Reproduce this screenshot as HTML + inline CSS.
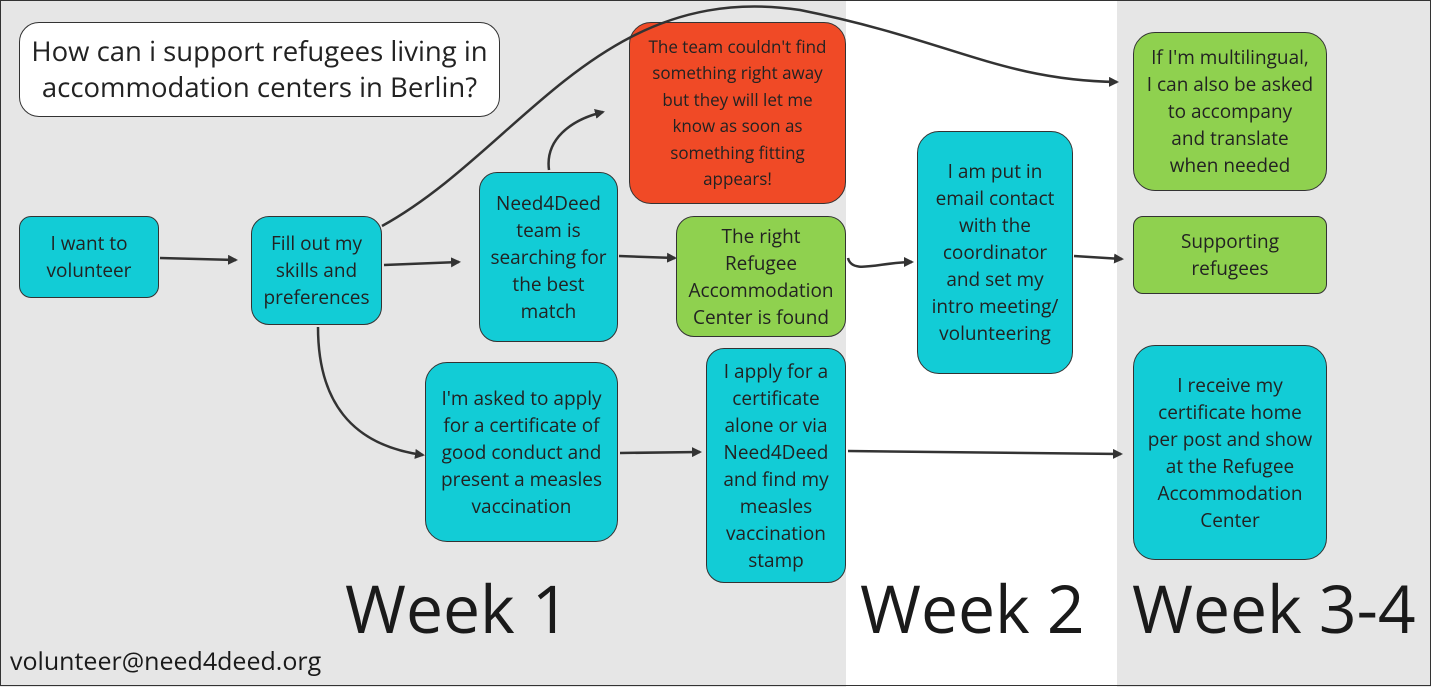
<!DOCTYPE html>
<html><head><meta charset="utf-8"><style>
body{margin:0;width:1431px;height:687px;overflow:hidden;font-family:"Open Sans","Liberation Sans",sans-serif;}
.bg{position:absolute;top:0;height:687px}
.n{position:absolute;box-sizing:border-box;border:1.5px solid #333;border-radius:18px;display:flex;align-items:center;justify-content:center;text-align:center;color:#222;font-size:19px;line-height:27px}
.c{background:#12ccd6}.g{background:#8fd14f}.r{background:#f04a26}
.w{position:absolute;font-size:66px;color:#1a1a1a;top:568px;line-height:80px}
</style></head><body>
<div class="bg" style="left:0;width:846px;background:#e6e6e6"></div>
<div class="bg" style="left:846px;width:271px;background:#fff"></div>
<div class="bg" style="left:1117px;width:314px;background:#e6e6e6"></div>
<div style="position:absolute;left:0;top:0;width:1429px;height:684px;border:1px solid #333"></div>

<div class="n" style="left:19px;top:22px;width:481px;height:95px;background:#fff;font-size:27.5px;line-height:36px;border-radius:20px">How can i support refugees living in<br>accommodation centers in Berlin?</div>
<div class="n c" style="left:19px;top:216px;width:140px;height:82px;border-radius:12px">I want to<br>volunteer</div>
<div class="n c" style="left:251px;top:216px;width:131px;height:109px">Fill out my<br>skills and<br>preferences</div>
<div class="n c" style="left:479px;top:172px;width:139px;height:170px">Need4Deed<br>team is<br>searching for<br>the best<br>match</div>
<div class="n r" style="left:629px;top:22px;width:217px;height:182px;font-size:17px;line-height:26.5px;border-radius:22px">The team couldn't find<br>something right away<br>but they will let me<br>know as soon as<br>something fitting<br>appears!</div>
<div class="n g" style="left:676px;top:216px;width:170px;height:121px">The right<br>Refugee<br>Accommodation<br>Center is found</div>
<div class="n c" style="left:917px;top:131px;width:156px;height:243px;border-radius:22px">I am put in<br>email contact<br>with the<br>coordinator<br>and set my<br>intro meeting/<br>volunteering</div>
<div class="n g" style="left:1133px;top:32px;width:194px;height:159px;border-radius:22px">If I'm multilingual,<br>I can also be asked<br>to accompany<br>and translate<br>when needed</div>
<div class="n g" style="left:1133px;top:216px;width:194px;height:78px;border-radius:10px">Supporting<br>refugees</div>
<div class="n c" style="left:425px;top:362px;width:193px;height:180px;border-radius:22px">I'm asked to apply<br>for a certificate of<br>good conduct and<br>present a measles<br>vaccination</div>
<div class="n c" style="left:706px;top:348px;width:140px;height:235px">I apply for a<br>certificate<br>alone or via<br>Need4Deed<br>and find my<br>measles<br>vaccination<br>stamp</div>
<div class="n c" style="left:1133px;top:345px;width:194px;height:215px;border-radius:22px">I receive my<br>certificate home<br>per post and show<br>at the Refugee<br>Accommodation<br>Center</div>

<div class="w" style="left:345px">Week 1</div>
<div class="w" style="left:860px">Week 2</div>
<div class="w" style="left:1132px">Week 3-4</div>
<div style="position:absolute;left:10px;top:644px;font-size:25px;color:#1a1a1a">volunteer@need4deed.org</div>

<svg width="1431" height="687" style="position:absolute;left:0;top:0" fill="none" stroke="#333" stroke-width="2.5">
<defs><marker id="a" markerWidth="10" markerHeight="10" refX="8" refY="5" orient="auto" markerUnits="userSpaceOnUse"><path d="M0,0 L10,5 L0,10 Z" fill="#333" stroke="none"/></marker></defs>
<path d="M160,258 L236,260" marker-end="url(#a)"/>
<path d="M384,265 L459,262" marker-end="url(#a)"/>
<path d="M619,256 L675,258" marker-end="url(#a)"/>
<path d="M848,258 C852,275 880,262 912,262" marker-end="url(#a)"/>
<path d="M1074,256 L1122,259" marker-end="url(#a)"/>
<path d="M549,170 C545,140 570,120 603,112" marker-end="url(#a)"/>
<path d="M382,226 C520,150 600,-20 800,10 C950,40 1000,80 1117,82" marker-end="url(#a)"/>
<path d="M318,327 C318,400 350,445 423,455" marker-end="url(#a)"/>
<path d="M620,453 L700,452" marker-end="url(#a)"/>
<path d="M848,451 L1121,454" marker-end="url(#a)"/>
</svg>
</body></html>
